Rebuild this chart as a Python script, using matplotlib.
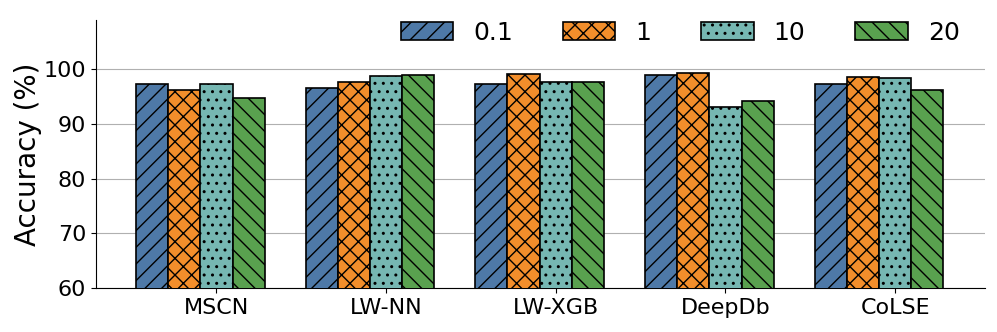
import numpy as np
import matplotlib.pyplot as plt

# ── Data ─────────────────────────────────────────────
methods = ['MSCN', 'LW-NN', 'LW-XGB', 'DeepDb', 'CoLSE']
series_labels = ['0.1', '1', '10', '20']

acc_01 = [97.2, 96.5, 97.2, 99.0, 97.2]
acc_1 = [96.2, 97.7, 99.1, 99.3, 98.6]
acc_10 = [97.2, 98.8, 97.7, 93.1, 98.3]
acc_20 = [94.7, 99.0, 97.7, 94.2, 96.1]

series = [acc_01, acc_1, acc_10, acc_20]
colors = ['#4E79A7', '#F28E2B', '#76B7B2', '#59A14F']
hatches = ['//', 'xx', '..', '\\\\']

plt.rcParams['hatch.linewidth'] = 1.0

fig = plt.figure(figsize=(9.97, 3.32), dpi=100)
ax = fig.add_axes([0.0963, 0.1325, 0.8917, 0.8075])

x = np.arange(len(methods))
w = 0.19

for k, (vals, lab) in enumerate(zip(series, series_labels)):
    ax.bar(x + (k - 2) * w, vals, w, color=colors[k], hatch=hatches[k],
           edgecolor='black', linewidth=1.2, label=lab, zorder=3)

ax.set_xticks(x)
ax.set_xticklabels(methods, fontsize=16)
ax.set_xlim(-0.71, 4.53)
ax.set_ylim(60, 109)
ax.set_yticks([60, 70, 80, 90, 100])
ax.tick_params(axis='y', labelsize=16)
ax.set_ylabel('Accuracy (%)', fontsize=20, labelpad=1)
ax.yaxis.grid(True, color='#b0b0b0', lw=0.8, zorder=0)
ax.set_axisbelow(True)
ax.spines['top'].set_visible(False)
ax.spines['right'].set_visible(False)

ax.legend(ncol=4, fontsize=18, frameon=False, loc='upper right',
          bbox_to_anchor=(0.997, 1.08), handlelength=2.1, columnspacing=2.0,
          handletextpad=0.8)

plt.savefig('out.png', dpi=100)
